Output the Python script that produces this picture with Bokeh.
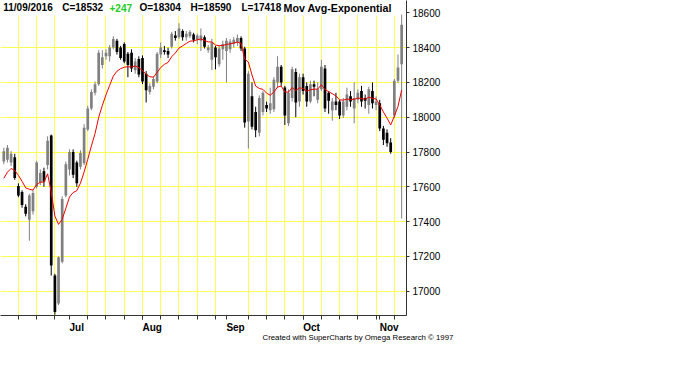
from bokeh.plotting import figure
from bokeh.models import Range1d, FixedTicker, Label, Title, Grid
from bokeh.embed import file_html
from bokeh.resources import INLINE

# ---------------- data ----------------
dates = ["06/07", "06/08", "06/09", "06/10", "06/13", "06/14", "06/15", "06/16", "06/17",
         "06/20", "06/21", "06/22", "06/23", "06/24", "06/27", "06/28", "06/29", "06/30",
         "07/01", "07/05", "07/06", "07/07", "07/08", "07/11", "07/12", "07/13", "07/14",
         "07/15", "07/18", "07/19", "07/20", "07/21", "07/22", "07/25", "07/26", "07/27",
         "07/28", "07/29", "08/01", "08/02", "08/03", "08/04", "08/05", "08/08", "08/09",
         "08/10", "08/11", "08/12", "08/15", "08/16", "08/17", "08/18", "08/19", "08/22",
         "08/23", "08/24", "08/25", "08/26", "08/29", "08/30", "08/31", "09/01", "09/02",
         "09/06", "09/07", "09/08", "09/09", "09/12", "09/13", "09/14", "09/15", "09/16",
         "09/19", "09/20", "09/21", "09/22", "09/23", "09/26", "09/27", "09/28", "09/29",
         "09/30", "10/03", "10/04", "10/05", "10/06", "10/07", "10/10", "10/11", "10/12",
         "10/13", "10/14", "10/17", "10/18", "10/19", "10/20", "10/21", "10/24", "10/25",
         "10/26", "10/27", "10/28", "10/31", "11/01", "11/02", "11/03", "11/04", "11/07",
         "11/08", "11/09"]

opens = [17745, 17755, 17740, 17770, 17605, 17570, 17485, 17410, 17460, 17600, 17625, 17690,
         17725, 17895, 17090, 16930, 17170, 17550, 17700, 17800, 17740, 17715, 17735, 17930,
         18050, 18140, 18190, 18300, 18350, 18350, 18400, 18440, 18400, 18420, 18365, 18370,
         18270, 18335, 18340, 18250, 18145, 18175, 18205, 18360, 18385, 18380, 18405, 18470,
         18460, 18495, 18460, 18465, 18475, 18445, 18440, 18460, 18385, 18330, 18400, 18305,
         18390, 18380, 18390, 18420, 18430, 18455, 18395, 17975, 18120, 18030, 17910, 18030,
         18070, 18040, 18045, 18200, 18290, 18170, 17965, 18110, 18260, 18090, 18230, 18180,
         18090, 18190, 18100, 18160, 18280, 18140, 18040, 18090, 18090, 18010, 18060, 18120,
         18050, 18100, 18150, 18110, 18070, 18150, 18070, 18080, 17935, 17910, 17855, 18010,
         18210, 18304]

highs = [17825, 17840, 17805, 17790, 17620, 17580, 17500, 17560, 17580, 17750, 17700, 17710,
         17890, 17900, 17100, 17200, 17545, 17745, 17815, 17815, 17750, 17810, 17960, 18065,
         18160, 18205, 18385, 18385, 18390, 18415, 18465, 18450, 18410, 18430, 18375, 18390,
         18340, 18350, 18355, 18265, 18195, 18235, 18375, 18430, 18410, 18400, 18490, 18495,
         18540, 18505, 18495, 18500, 18485, 18480, 18510, 18470, 18415, 18450, 18410, 18410,
         18440, 18455, 18450, 18460, 18475, 18465, 18405, 18265, 18200, 18060, 18125, 18150,
         18090, 18170, 18230, 18350, 18300, 18180, 18160, 18290, 18280, 18250, 18250, 18200,
         18210, 18210, 18200, 18330, 18300, 18150, 18110, 18140, 18100, 18110, 18170, 18150,
         18200, 18160, 18180, 18130, 18175, 18200, 18120, 18100, 17950, 17930, 17880, 18220,
         18360, 18590]

lows = [17730, 17740, 17720, 17640, 17540, 17480, 17430, 17290, 17440, 17590, 17610, 17600,
        17700, 17090, 16865, 16920, 17160, 17540, 17665, 17650, 17600, 17700, 17725, 17920,
        18040, 18125, 18180, 18280, 18330, 18320, 18390, 18360, 18330, 18310, 18230, 18260,
        18250, 18230, 18190, 18085, 18130, 18160, 18195, 18340, 18360, 18340, 18395, 18440,
        18450, 18440, 18440, 18455, 18430, 18420, 18380, 18395, 18370, 18270, 18275, 18290,
        18330, 18200, 18370, 18400, 18410, 18380, 17940, 17820, 17930, 17885, 17890, 18010,
        18030, 18020, 18030, 18170, 18180, 17955, 17950, 18090, 18000, 18060, 18130, 18060,
        18080, 18120, 18080, 18150, 18030, 18020, 17980, 18040, 17990, 17995, 18040, 18060,
        17965, 18080, 18060, 18050, 18020, 18050, 18040, 17920, 17840, 17830, 17790, 17995,
        18195, 17418]

closes = [17805, 17825, 17790, 17650, 17550, 17495, 17445, 17550, 17565, 17740, 17680, 17630,
          17865, 17148, 16880, 17195, 17530, 17730, 17800, 17670, 17620, 17795, 17940, 18050,
          18145, 18190, 18370, 18345, 18370, 18400, 18450, 18375, 18340, 18320, 18300, 18280,
          18320, 18245, 18205, 18155, 18180, 18220, 18365, 18400, 18375, 18360, 18480, 18455,
          18510, 18460, 18480, 18490, 18445, 18470, 18470, 18405, 18400, 18430, 18345, 18395,
          18420, 18440, 18435, 18445, 18455, 18395, 17970, 18250, 17945, 17925, 18110, 18140,
          18050, 18080, 18215, 18290, 18200, 18010, 18140, 18275, 18085, 18230, 18150, 18090,
          18190, 18175, 18160, 18290, 18050, 18095, 18090, 18070, 18010, 18090, 18130, 18090,
          18110, 18140, 18090, 18095, 18160, 18080, 18090, 17935, 17870, 17850, 17800, 18210,
          18285, 18532]

ema_length = 9          # "Mov Avg-Exponential"
ema_prior = 17610       # average level just before the first visible bar

month_names = ["Jul", "Aug", "Sep", "Oct", "Nov"]
month_bars = [18, 38, 61, 82, 103]                       # first trading day of each month
week_bars = [4, 9, 14, 23, 28, 33, 38, 43, 48, 53, 58, 67, 72, 77, 82, 87, 92, 97, 102, 107]
y_ticks = [17000, 17200, 17400, 17600, 17800, 18000, 18200, 18400, 18600]

# ---------------- derived ----------------
alpha = 2.0 / (ema_length + 1)
ema, level = [], ema_prior
for c in closes:
    level = level + alpha * (c - level)
    ema.append(level)

x = list(range(len(closes)))
colors = ["#808080" if c >= o else "#000000" for o, c in zip(opens, closes)]
body_top = [max(o, c) for o, c in zip(opens, closes)]
body_bot = [min(o, c) for o, c in zip(opens, closes)]

YELLOW = "#FFFF55"
FONT = "Liberation Sans"

x_lo, x_hi = -0.904, 110.33
y_lo, y_hi = 16860.4, 18670.7

p = figure(frame_width=406, frame_height=315,
           x_range=Range1d(x_lo, x_hi), y_range=Range1d(y_lo, y_hi),
           output_backend="svg", toolbar_location=None, y_axis_location="right",
           min_border_left=0, min_border_top=0, min_border_right=56, min_border_bottom=45,
           background_fill_color="white", border_fill_color="white", outline_line_color=None)

# grid: remove the default ones completely and add our own
p.center = [r for r in p.center if not isinstance(r, Grid)]
p.add_layout(Grid(dimension=0, ticker=FixedTicker(ticks=week_bars),
                  grid_line_color=YELLOW, grid_line_width=1), "center")
p.add_layout(Grid(dimension=1, ticker=FixedTicker(ticks=y_ticks),
                  grid_line_color=YELLOW, grid_line_width=1), "center")

# white band behind the header line
p.quad(left=[x_lo], right=[x_hi], bottom=[18584.5], top=[y_hi],
       fill_color="white", line_color=None)

# candles
p.segment(x0=x, y0=lows, x1=x, y1=highs, line_color=colors, line_width=1)
p.vbar(x=x, width=0.74, top=body_top, bottom=body_bot, fill_color=colors, line_color=None)

# exponential moving average
p.line(x, ema, line_color="#ee0000", line_width=1)

# x axis
label_pos = [19.99, 40.66, 63.5, 84.3, 105.6]
xax = p.xaxis[0]
xax.ticker = FixedTicker(ticks=label_pos, minor_ticks=week_bars + month_bars)
xax.major_label_overrides = {pos: name for pos, name in zip(label_pos, month_names)}
xax.major_tick_line_color = None
xax.major_tick_out = 0
xax.major_tick_in = 0
xax.minor_tick_out = 4
xax.minor_tick_in = 0
xax.minor_tick_line_color = "#333333"
xax.axis_line_color = "#333333"
xax.major_label_standoff = 2
xax.major_label_text_font = FONT
xax.major_label_text_font_style = "bold"
xax.major_label_text_font_size = "10px"
xax.major_label_text_color = "black"

# y axis (right)
yax = p.yaxis[0]
yax.ticker = FixedTicker(ticks=y_ticks)
yax.major_tick_out = 3
yax.major_tick_in = 0
yax.minor_tick_out = 0
yax.minor_tick_in = 0
yax.major_tick_line_color = "#333333"
yax.axis_line_color = "#333333"
yax.major_label_standoff = 3
yax.major_label_text_font = FONT
yax.major_label_text_font_size = "10px"
yax.major_label_text_color = "black"

# header
chg = closes[-1] - closes[-2]
hdr = [("11/09/2016", -0.16, "black", "10px"),
       ("C=%d" % closes[-1], 16.0, "black", "10px"),
       ("%+d" % chg, 28.96, "#22cc22", "10px"),
       ("O=%d" % opens[-1], 37.18, "black", "10px"),
       ("H=%d" % highs[-1], 51.15, "black", "10px"),
       ("L=%d" % lows[-1], 65.12, "black", "10px"),
       ("Mov Avg-Exponential", 76.63, "black", "10.7px")]
for txt, xp, col, fs in hdr:
    p.add_layout(Label(x=xp, y=18627.6, text=txt, text_color=col, text_font=FONT,
                       text_font_style="bold", text_font_size=fs,
                       text_baseline="middle", text_align="left"))

# footer
p.add_layout(Title(text="Created with SuperCharts by Omega Research \u00a9 1997",
                   align="left", offset=262, standoff=-10,
                   text_font=FONT, text_font_size="7.8px",
                   text_font_style="normal", text_color="black"), "below")

open("out.html", "w").write(file_html(p, INLINE))
